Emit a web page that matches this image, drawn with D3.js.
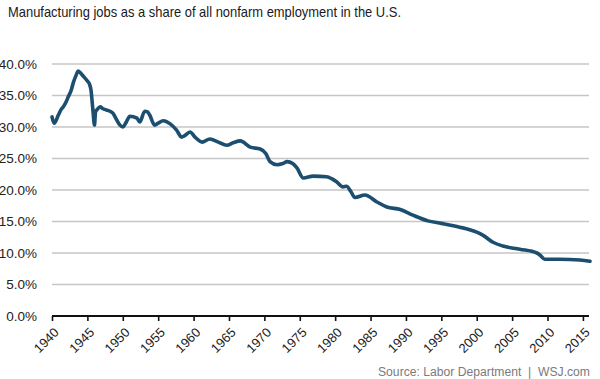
<!DOCTYPE html>
<html>
<head>
<meta charset="utf-8">
<script src="https://cdn.jsdelivr.net/npm/d3@7"></script>
<style>
  body { margin: 0; background: #fff; }
  svg { display: block; font-family: "Liberation Sans", Arial, sans-serif; }
</style>
</head>
<body>
<div id="chart"></div>
<script>
// Manufacturing share of nonfarm employment (%)
const years = [
  1940.0, 1940.3, 1940.9, 1941.3, 1941.6, 1942.0, 1942.3, 1942.7, 1943.0, 1943.4,
  1943.7, 1944.0, 1944.4, 1945.0, 1945.3, 1945.5, 1945.8, 1946.0, 1946.15, 1946.4,
  1946.8, 1947.2, 1947.7, 1948.2, 1948.6, 1949.1, 1949.6, 1950.0, 1950.5, 1951.0,
  1952.0, 1952.4, 1953.1, 1953.5, 1953.8, 1954.5, 1955.0, 1955.7, 1956.7, 1957.6,
  1958.3, 1958.7, 1959.5, 1960.2, 1961.2, 1962.3, 1963.5, 1964.7, 1965.6, 1966.6,
  1968.0, 1969.4, 1970.2, 1970.8, 1971.8, 1972.6, 1973.2, 1974.0, 1974.6, 1975.5,
  1976.9, 1978.8, 1979.5, 1980.2, 1981.1, 1981.6, 1982.2, 1982.8, 1984.2, 1985.9,
  1987.3, 1989.2, 1991.0, 1993.1, 1995.0, 1997.6, 1999.0, 2000.0, 2000.9, 2002.3,
  2003.7, 2006.1, 2008.5, 2009.0, 2009.6, 2011.7, 2014.6, 2016.0
];
const share = [
  31.6, 30.6, 31.9, 32.8, 33.2, 34.0, 34.8, 35.8, 37.0, 38.2,
  38.9, 38.6, 38.1, 37.3, 36.8, 35.9, 32.4, 30.3, 32.4, 32.8,
  33.2, 32.9, 32.7, 32.5, 32.2, 31.2, 30.3, 30.0, 30.8, 31.7,
  31.4, 30.8, 32.5, 32.4, 31.9, 30.3, 30.6, 31.0, 30.5, 29.5,
  28.4, 28.6, 29.2, 28.4, 27.6, 28.1, 27.6, 27.1, 27.5, 27.8,
  26.8, 26.5, 25.8, 24.5, 24.0, 24.2, 24.5, 24.2, 23.5, 21.9,
  22.2, 22.1, 21.8, 21.3, 20.5, 20.6, 19.8, 18.8, 19.2, 18.1,
  17.3, 16.9, 16.0, 15.1, 14.7, 14.1, 13.7, 13.3, 12.8, 11.7,
  11.1, 10.6, 10.0, 9.6, 9.0, 9.0, 8.9, 8.7
];
const yTicks = [0, 5, 10, 15, 20, 25, 30, 35, 40];
const xTicks = [1940, 1945, 1950, 1955, 1960, 1965, 1970, 1975, 1980, 1985,
  1990, 1995, 2000, 2005, 2010, 2015];

const title = "Manufacturing jobs as a share of all nonfarm employment in the U.S.";
const source = "Source: Labor Department  |  WSJ.com";

const width = 600, height = 379;
const margin = { top: 64, right: 10, bottom: 63, left: 52 };

const data = years.map((y, i) => ({ year: y, value: share[i] }));

const svg = d3.select("#chart").append("svg")
  .attr("width", width)
  .attr("height", height);

const x = d3.scaleLinear()
  .domain([1940, 2016])
  .range([margin.left, width - margin.right]);

const y = d3.scaleLinear()
  .domain([0, 40])
  .range([height - margin.bottom, margin.top]);

// title
svg.append("text")
  .attr("x", 8)
  .attr("y", 17)
  .attr("font-size", 15)
  .attr("fill", "#1a1a1a")
  .attr("textLength", 393)
  .attr("lengthAdjust", "spacingAndGlyphs")
  .text(title);

// gridlines
svg.append("g")
  .selectAll("line")
  .data(yTicks.filter(d => d > 0))
  .join("line")
  .attr("x1", margin.left)
  .attr("x2", width - margin.right - 1)
  .attr("y1", d => y(d))
  .attr("y2", d => y(d))
  .attr("stroke", "#c6c6c6")
  .attr("stroke-width", 1.6);

// y labels
svg.append("g")
  .selectAll("text")
  .data(yTicks)
  .join("text")
  .attr("x", 37)
  .attr("y", d => y(d))
  .attr("dy", "0.35em")
  .attr("text-anchor", "end")
  .attr("font-size", 13.5)
  .attr("fill", "#222")
  .text(d => d.toFixed(1) + "%");

// x axis
const xAxis = svg.append("g")
  .attr("transform", `translate(0,${y(0)})`)
  .call(d3.axisBottom(x).tickValues(xTicks).tickFormat(d3.format("d")).tickSize(5));

xAxis.select(".domain")
  .attr("stroke", "#111")
  .attr("stroke-width", 2.2)
  .attr("d", `M${margin.left},0H${width - margin.right - 1}`);

xAxis.selectAll(".tick line")
  .attr("stroke", "#111")
  .attr("stroke-width", 1.6);

xAxis.selectAll(".tick text")
  .attr("font-size", 13)
  .attr("font-family", "'Liberation Sans', Arial, sans-serif")
  .attr("fill", "#222")
  .attr("text-anchor", "end")
  .attr("x", 0)
  .attr("y", 0)
  .attr("dy", "0.35em")
  .attr("transform", "translate(4,14) rotate(-45)");

// line
const line = d3.line()
  .x(d => x(d.year))
  .y(d => y(d.value))
  .curve(d3.curveMonotoneX);

svg.append("path")
  .datum(data)
  .attr("fill", "none")
  .attr("stroke", "#1c4e70")
  .attr("stroke-width", 3.6)
  .attr("stroke-linejoin", "round")
  .attr("stroke-linecap", "round")
  .attr("d", line);

// source
svg.append("text")
  .attr("x", 590)
  .attr("y", 376)
  .attr("text-anchor", "end")
  .attr("font-size", 12.5)
  .attr("fill", "#7a7a7a")
  .attr("xml:space", "preserve")
  .attr("textLength", 212)
  .attr("lengthAdjust", "spacingAndGlyphs")
  .text(source);
</script>
</body>
</html>
